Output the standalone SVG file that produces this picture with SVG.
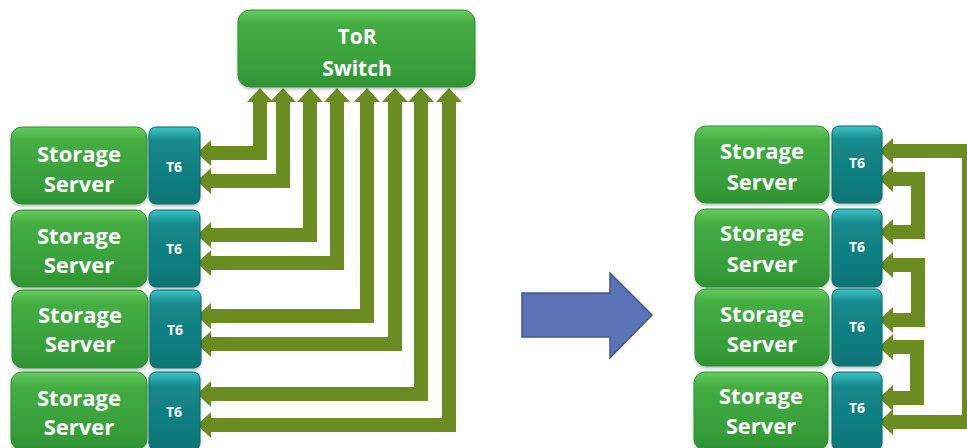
<svg xmlns="http://www.w3.org/2000/svg" width="967" height="448" viewBox="0 0 967 448">
  <style>
    .srv { fill: url(#gGreen); stroke: #2e8f33; stroke-width: 1; filter: url(#shadow); }
    .t6 { fill: url(#gTeal); stroke: #0a6a6d; stroke-width: 1; filter: url(#shadow); }
    .lbl { font-family: "Open Sans", "Liberation Sans", sans-serif; font-weight: 700; fill: #ffffff; text-anchor: middle; }
    .big { font-size: 22px; }
    .sw { font-size: 21px; }
    .small { font-size: 14px; }
    .link { fill: none; stroke: #6b8c21; stroke-width: 14; stroke-linejoin: miter; marker-start: url(#head); marker-end: url(#head); }
  </style>
  <defs>
    <linearGradient id="gGreen" x1="0" y1="0" x2="0" y2="1">
      <stop offset="0" stop-color="#66cc5e"/>
      <stop offset="0.18" stop-color="#44ad43"/>
      <stop offset="0.75" stop-color="#379f3a"/>
      <stop offset="1" stop-color="#2d9232"/>
    </linearGradient>
    <linearGradient id="gTeal" x1="0" y1="0" x2="0" y2="1">
      <stop offset="0" stop-color="#3cc4c4"/>
      <stop offset="0.18" stop-color="#14898c"/>
      <stop offset="1" stop-color="#0c7477"/>
    </linearGradient>
    <filter id="shadow" x="-10%" y="-10%" width="120%" height="130%">
      <feDropShadow dx="0" dy="2" stdDeviation="1.5" flood-color="#000000" flood-opacity="0.25"/>
    </filter>
    <marker id="head" markerUnits="userSpaceOnUse" markerWidth="16" markerHeight="28" refX="0" refY="13" orient="auto-start-reverse" overflow="visible">
      <path d="M0,0 L14,13 L0,26 Z" fill="#6b8c21"/>
    </marker>
  </defs>

  <!-- connectors: switch to servers, and server ring -->
  <g id="connectors">
    <path class="link" d="M211,153 H260 V102"/>
    <path class="link" d="M211,181 H283 V102"/>
    <path class="link" d="M211,235 H310 V102"/>
    <path class="link" d="M211,263 H337 V102"/>
    <path class="link" d="M211,316 H367 V102"/>
    <path class="link" d="M211,344 H395 V102"/>
    <path class="link" d="M211,394 H421 V102"/>
    <path class="link" d="M211,425 H449 V102"/>

    <path class="link" d="M893,151 H969 V422 H893"/>
    <path class="link" d="M893,179 H918 V232 H893"/>
    <path class="link" d="M893,265 H918 V320 H893"/>
    <path class="link" d="M893,347 H917 V398 H893"/>
  </g>

  <!-- transition arrow -->
  <g id="transition">
    <polygon points="522,293 610,293 610,273 652,315 610,358 610,337 522,337" fill="#5b73b6" stroke="#3f5597" stroke-width="1.5"/>
  </g>

  <g id="tor-switch">
    <rect class="srv" x="238" y="10" width="237" height="77" rx="12"/>
    <text class="lbl sw" x="357" y="44">ToR</text>
    <text class="lbl sw" x="357" y="76">Switch</text>
  </g>

  <!-- left rack -->
  <g id="left-server-1">
    <rect class="srv" x="11" y="127" width="136" height="77" rx="11"/>
    <text class="lbl big" x="79" y="162">Storage</text>
    <text class="lbl big" x="79" y="192">Server</text>
  </g>
  <g id="left-t6-1">
    <rect class="t6" x="149" y="127" width="51" height="77" rx="7"/>
    <text class="lbl small" x="174" y="172">T6</text>
  </g>
  <g id="left-server-2">
    <rect class="srv" x="11" y="210" width="136" height="77" rx="11"/>
    <text class="lbl big" x="79" y="244">Storage</text>
    <text class="lbl big" x="79" y="273">Server</text>
  </g>
  <g id="left-t6-2">
    <rect class="t6" x="149" y="210" width="51" height="77" rx="7"/>
    <text class="lbl small" x="174" y="254">T6</text>
  </g>
  <g id="left-server-3">
    <rect class="srv" x="12" y="290" width="136" height="78" rx="11"/>
    <text class="lbl big" x="80" y="323">Storage</text>
    <text class="lbl big" x="80" y="352">Server</text>
  </g>
  <g id="left-t6-3">
    <rect class="t6" x="150" y="290" width="51" height="78" rx="7"/>
    <text class="lbl small" x="175" y="335">T6</text>
  </g>
  <g id="left-server-4">
    <rect class="srv" x="11" y="372" width="136" height="78" rx="11"/>
    <text class="lbl big" x="79" y="406">Storage</text>
    <text class="lbl big" x="79" y="435">Server</text>
  </g>
  <g id="left-t6-4">
    <rect class="t6" x="149" y="372" width="51" height="78" rx="7"/>
    <text class="lbl small" x="174" y="417">T6</text>
  </g>

  <!-- right rack -->
  <g id="right-server-1">
    <rect class="srv" x="695" y="126" width="134" height="77" rx="11"/>
    <text class="lbl big" x="762" y="159">Storage</text>
    <text class="lbl big" x="762" y="190">Server</text>
  </g>
  <g id="right-t6-1">
    <rect class="t6" x="832" y="126" width="50" height="77" rx="7"/>
    <text class="lbl small" x="857" y="168">T6</text>
  </g>
  <g id="right-server-2">
    <rect class="srv" x="695" y="209" width="134" height="78" rx="11"/>
    <text class="lbl big" x="762" y="241">Storage</text>
    <text class="lbl big" x="762" y="272">Server</text>
  </g>
  <g id="right-t6-2">
    <rect class="t6" x="832" y="209" width="50" height="78" rx="7"/>
    <text class="lbl small" x="857" y="252">T6</text>
  </g>
  <g id="right-server-3">
    <rect class="srv" x="695" y="289" width="134" height="77" rx="11"/>
    <text class="lbl big" x="762" y="322">Storage</text>
    <text class="lbl big" x="762" y="352">Server</text>
  </g>
  <g id="right-t6-3">
    <rect class="t6" x="832" y="289" width="50" height="77" rx="7"/>
    <text class="lbl small" x="857" y="332">T6</text>
  </g>
  <g id="right-server-4">
    <rect class="srv" x="694" y="372" width="134" height="78" rx="11"/>
    <text class="lbl big" x="761" y="404">Storage</text>
    <text class="lbl big" x="761" y="434">Server</text>
  </g>
  <g id="right-t6-4">
    <rect class="t6" x="832" y="372" width="50" height="78" rx="7"/>
    <text class="lbl small" x="857" y="413">T6</text>
  </g>
</svg>
